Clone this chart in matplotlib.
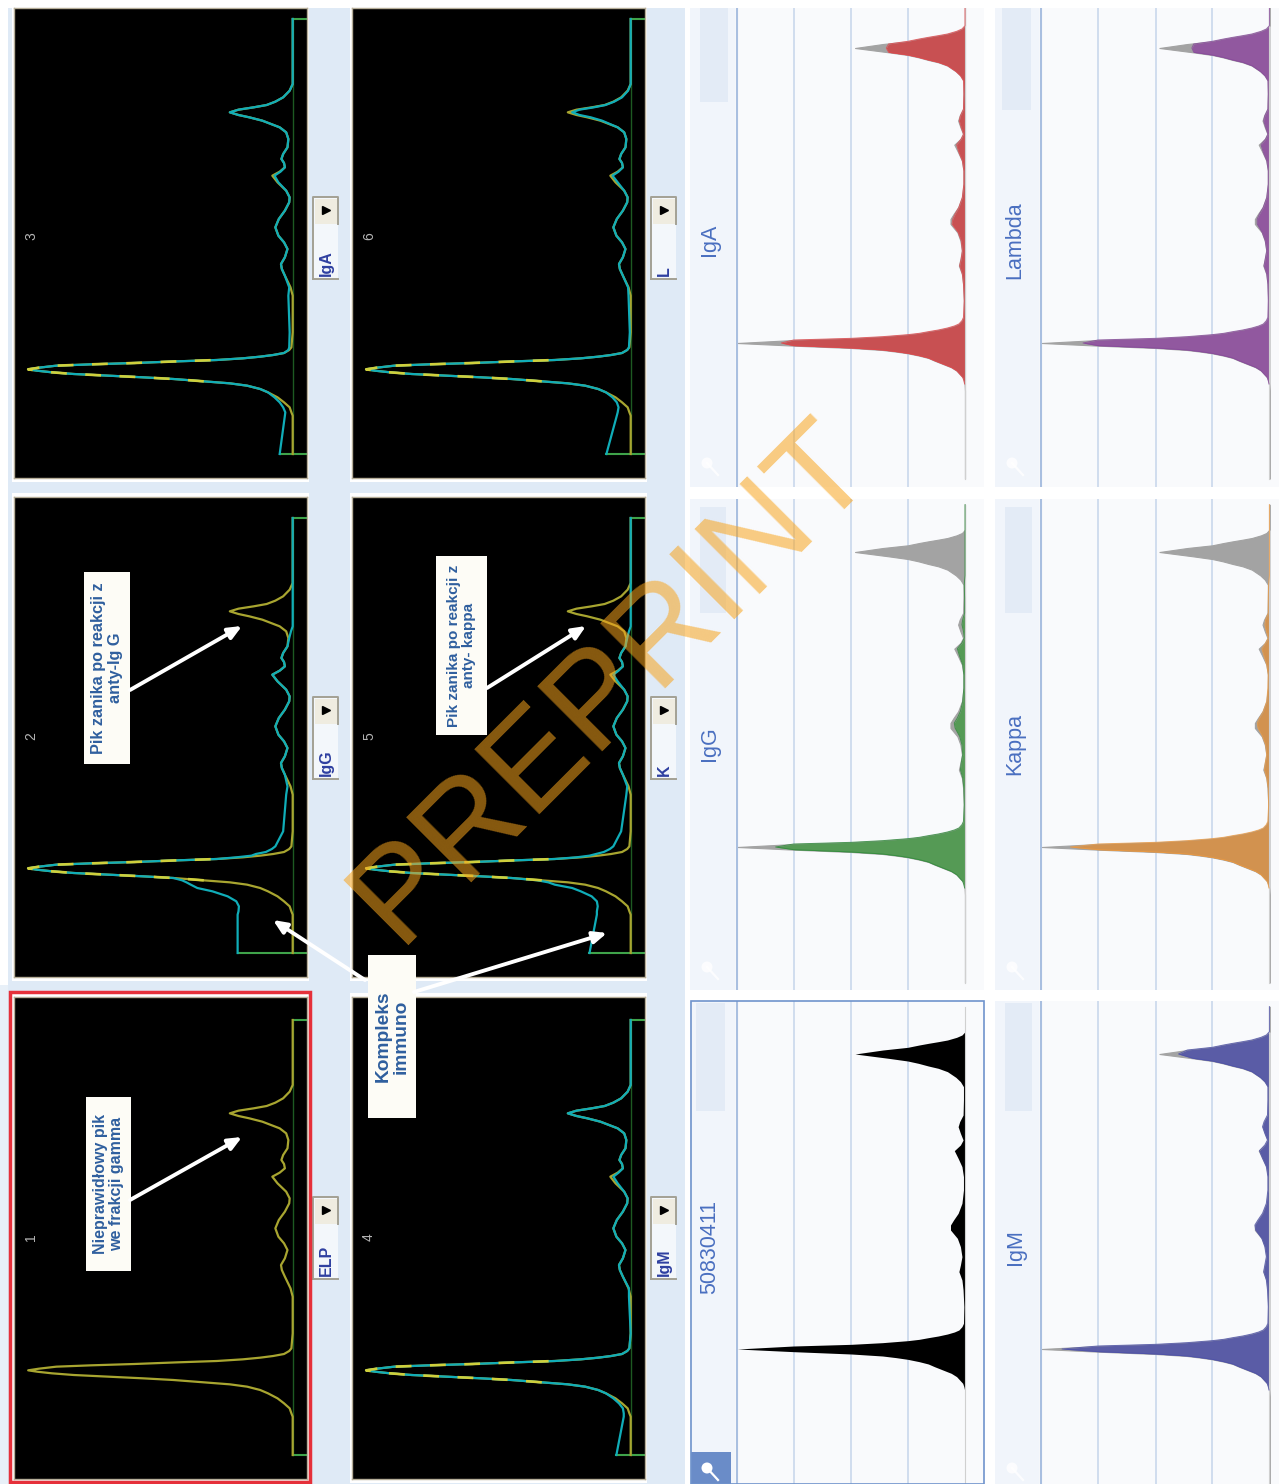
import matplotlib
matplotlib.use('Agg')
import matplotlib.pyplot as plt
from matplotlib.patches import Rectangle, Circle

W = 1279
H = 1484
plt.rcParams['font.family'] = ['Liberation Sans', 'DejaVu Sans']

# densitometry traces
trace_mig = [1425,1310,1300,1285,1270,1255,1240,1230,1220,1213,1207,1200,1195,1190,1185,1180,1175,1171,1166,1160,
             1156,1152,1147,1143,1138,1133,1128,1122,1113,1105,
             1060,950,925,890,870,855,835,810,790,770,745,720,695,670,655,635,610,590,578,565,552,540,525,505,
             480,460,445,425,415,408,400,392,385,378,368,355,335,315,120]
peak_core = [345,425,505,555,590,610,585,545,465,365,265,175]
elp = [0,0,3,7,20,35,57,75,105,145,205,275] + peak_core + [115,75,45,20,8,3] + \
      [0,0,5,18,25,27,18,12,20,33,40,32,18,8,7,15,35,47,30,18,20,26,22,12,10,15,30,70,100,125,145,125,90,60,40,22,7,0,0]
igg_trace = [127,127,125,124,130,150,185,220,235,245,255,275] + peak_core + [130,95,85,62,48,40] + \
            [22,15,12,18,25,27,18,12,20,33,40,32,18,8,7,15,35,47,30,18,20,26,22,12,8,4,0,0,0,0,0,0,0,0,0,0,0,0,0]
iga_trace = [30,18,17,22,30,42,57,75,105,145,205,275] + peak_core + [115,75,45,20,10,8] + \
            [7,10,8,18,25,27,18,12,20,33,40,32,18,8,7,15,33,42,28,18,20,26,22,12,10,15,30,70,100,125,145,125,90,60,40,22,7,0,0]
igm_trace = [33,16,16,18,27,40,57,75,105,145,205,275] + peak_core + [115,75,45,20,8,3] + \
            [0,4,4,18,25,27,18,12,20,33,40,32,18,8,7,15,30,40,28,18,20,26,22,12,10,15,30,70,100,125,145,125,90,60,40,22,7,0,0]
k_trace = [95,78,78,76,78,90,115,135,175,190,215,275] + peak_core + [125,95,80,62,48,40] + \
          [22,10,8,18,25,27,18,12,20,33,40,32,18,8,7,15,30,40,28,18,20,26,22,12,8,4,0,0,0,0,0,0,0,0,0,0,0,0,0]
l_trace = [56,32,30,28,32,42,57,75,105,145,205,275] + peak_core + [115,75,45,20,8,4] + \
          [2,5,6,18,25,27,18,12,20,33,40,32,18,8,7,15,30,42,28,18,20,26,22,12,10,15,30,66,92,118,135,118,85,58,38,20,6,0,0]
stub_mig = [120, 1425]

# filled profiles on the right
fill_mig = [1484,1330,1220,
            1200,1190,1180,1170,1160,1150,1140,1130,1122,1115,1108,1103,1098,1092,1085,1077,
            1068,1063,1058,1052,1048,1043,1038,1032,1026,1020,1010,1000,
            950,900,870,845,825,800,770,745,720,705,690,670,640,600,560,530,505,482,465,450,430,410,395,375,330,
            290,275,262,245,235,228,220,213,205,192,180,172,165,160,155,150,142,135,125,50]
main_low = [0,0,0,1,3,6,14,22,36,58,80,96,120,150,180,216,298,449]
main_up = [449,298,216,150,120,96,70,46,28,16,8,4]
ref_fill = main_low + [596] + main_up + \
           [3,5,8,16,12,8,12,20,38,38,30,18,8,4,4,8,18,28,12,5,12,18,14,5,4] + \
           [4,12,24,46,70,96,122,150,200,288,215,150,120,96,70,46,22,8,0,0]
iga_fill = main_low + [481] + main_up + \
           [2,4,7,14,10,7,10,18,34,32,26,16,7,3,3,7,16,22,10,4,10,15,12,4,3] + \
           [4,12,24,46,70,96,122,150,200,206,200,150,120,96,70,46,22,8,0,0]
igg_fill = main_low + [496] + main_up + \
           [2,3,6,12,10,6,8,14,26,28,20,12,6,3,3,6,14,20,8,2,4,8,6,1,1] + \
           [2,1,0,0,0,0,0,0,0,0,0,0,0,0,0,0,0,0,0,0]
kappa_fill = main_low + [521] + main_up + \
             [2,3,7,13,11,7,10,18,30,32,26,16,7,4,3,7,14,20,10,3,8,12,10,3,3] + \
             [2,1,0,0,0,0,0,0,0,0,0,0,0,0,0,0,0,0,0,0]
lambda_fill = main_low + [488] + main_up + \
              [3,4,7,14,11,7,11,19,32,32,26,16,7,3,3,7,16,22,10,4,10,15,12,4,3] + \
              [4,12,24,46,70,96,122,150,198,203,198,150,120,96,70,46,22,8,0,0]
igm_fill = main_low + [543] + main_up + \
           [3,5,8,15,12,8,12,20,36,38,30,18,8,4,4,8,18,26,12,5,12,18,14,5,4] + \
           [4,12,24,46,70,96,122,150,200,238,215,150,120,96,70,46,22,8,0,0]
grid_vals = [150, 298, 449]

left_names = ['ELP', 'IgG', 'IgA', 'IgM', 'K', 'L']
left_traces = [None, igg_trace, iga_trace, igm_trace, k_trace, l_trace]
right_names = ['50830411', 'IgG', 'IgA', 'IgM', 'Kappa', 'Lambda']
right_fills = [ref_fill, igg_fill, iga_fill, igm_fill, kappa_fill, lambda_fill]
right_colors = ['#000000', '#559a55', '#c85052', '#5a5ca6', '#d2924f', '#91589f']
right_edges = ['#000000', '#2f8a3a', '#e2474b', '#4c50a8', '#ee9a40', '#86489a']

fig = plt.figure(figsize=(W / 100, H / 100), dpi=100, facecolor='white')


def px_axes(x0, y0, x1, y1, zorder=1):
    # axes placed by image pixels, y counted from the top
    return fig.add_axes([x0 / W, 1 - y1 / H, (x1 - x0) / W, (y1 - y0) / H], zorder=zorder)


# background layer
bg = px_axes(0, 0, W, H, zorder=0)
bg.set_xlim(0, W)
bg.set_ylim(H, 0)
bg.axis('off')
bg.add_patch(Rectangle((8, 8), 677, H - 8, fc='#dfeaf6', ec='none'))
bg.add_patch(Rectangle((0, 985), 8, H - 985, fc='#e8f0f8', ec='none'))

col_x = [14, 352]
row_y = [(997, 1479, 0), (497, 977, 502), (8, 478, 1001)]

# left black panels
for i in range(6):
    c = i // 3
    y0, y1, d = row_y[i % 3]
    x0 = col_x[c]
    x1 = x0 + 293
    halo = max(y0 - 4, 8)
    bg.add_patch(Rectangle((x0 - 2, halo), 297, y1 - halo + 4, fc='white', ec='none'))
    ax = px_axes(x0, y0, x1, y1)
    ax.set_facecolor('black')
    for s in ax.spines.values():
        s.set_color('#b5ad98')
        s.set_linewidth(1)
    ax.set_xticks([])
    ax.set_yticks([])
    ax.set_xlim(642.7, -33)
    ax.set_ylim(3 * (y1 - 980 + d), 3 * (y0 - 980 + d))

    cyan = left_traces[i]
    ax.plot([0, 0], stub_mig, color='#1d5a22', lw=1)
    stub_end = 0 if cyan is None else cyan[0]
    ax.plot([-33, 0], [stub_mig[0], stub_mig[0]], color='#3fa34a', lw=1.5)
    ax.plot([-33, stub_end], [stub_mig[1], stub_mig[1]], color='#3fa34a', lw=1.5)
    ax.plot(elp, trace_mig, color='#a8a530', lw=1.6)
    if cyan is not None:
        ax.plot(cyan, trace_mig, color='#10adb8', lw=1.6)
        ax.plot(elp[10:24], trace_mig[10:24], color='#cfcf3c', lw=1.9, dashes=(6, 7))

    # tab next to the panel
    tx0 = x0 + 299
    ty0 = [1197, 697, 197][i % 3]
    bg.add_patch(Rectangle((tx0, ty0), 25, 82, fc='#f3f7fb', ec='none'))
    bg.add_patch(Rectangle((tx0 + 2, ty0 + 2), 22, 25, fc='#efece0', ec='none'))
    bg.plot([tx0, tx0 + 25, tx0 + 25], [ty0 + 82, ty0 + 82, ty0 + 82], color='#a3a194', lw=1.4)
    bg.plot([tx0, tx0, tx0 + 25, tx0 + 25], [ty0 + 82, ty0, ty0, ty0 + 27], color='#a3a194', lw=1.4)
    bg.plot([tx0 + 13], [ty0 + 13], marker='>', color='black', ms=6)
    bg.text(tx0 + 13, ty0 + 79, left_names[i], rotation=90, ha='center', va='bottom',
            color='#2e3fa0', fontsize=11.5, fontweight='bold')

# right filled panels
cell_x = [(690, 984, 735, 965), (995, 1279, 1039, 1269.4)]
cell_y = [(1001, 1484, 0), (499, 990, 502), (8, 487, 1006)]
strip = [[(696, 725, 1003, 1111), (700, 726, 507, 613), (700, 728, 8, 102)],
         [(1005, 1032, 1003, 1111), (1005, 1032, 507, 613), (1002, 1031, 8, 110)]]
label_y = [1247, 744, 240]
for i in range(6):
    c = i // 3
    r = i % 3
    x0, x1, xh, xb = cell_x[c]
    y0, y1, off = cell_y[r]
    bg.add_patch(Rectangle((x0, y0), x1 - x0, y1 - y0, fc='#f9fafc', ec='none'))
    bg.add_patch(Rectangle((x0, y0), xh - x0, y1 - y0, fc='#f1f5fb', ec='none'))
    sx0, sx1, sy0, sy1 = strip[c][r]
    bg.add_patch(Rectangle((sx0, sy0), sx1 - sx0, sy1 - sy0, fc='#e3ebf6', ec='none'))
    bg.text(710 if c == 0 else 1015, label_y[r], right_names[i], rotation=90, ha='center', va='center',
            color='#4a6fc0', fontsize=15.5)

    ax = px_axes(xh, y0, x1, y1)
    ax.patch.set_alpha(0)
    for s in ax.spines.values():
        s.set_visible(False)
    ax.set_xlim((xb - xh) * 597 / 228, (xb - x1) * 597 / 228)
    ax.set_ylim(3 * (y1 - 990 + off), 3 * (y0 - 990 + off))
    ax.set_xticks(grid_vals)
    ax.set_yticks([])
    ax.tick_params(length=0, labelbottom=False)
    ax.grid(axis='x', color='#c9d8ec', lw=1.2)
    ax.axvline(597, color='#a9bfe0', lw=1.5)
    ax.set_axisbelow(True)

    vals = right_fills[i]
    ax.plot([0, 0], [50, 1484], color='#d0d0d0', lw=0.8)
    if i > 0:
        ax.fill_betweenx(fill_mig, 0, ref_fill, color='#a3a3a3', lw=0.8)
    ax.fill_betweenx(fill_mig, 0, vals, color=right_colors[i], lw=0)
    if i > 0:
        ax.plot(vals[3:], fill_mig[3:], color=right_edges[i], lw=0.7, alpha=0.8)

# magnifier button of the selected sample
bg.add_patch(Rectangle((691, 1452), 40, 32, fc='#6a8cc8', ec='none'))

# overlay layer: boxes, arrows, texts, watermark
top = px_axes(0, 0, W, H, zorder=5)
top.set_xlim(0, W)
top.set_ylim(H, 0)
top.axis('off')
top.patch.set_alpha(0)

top.add_patch(Rectangle((690.5, 1001), 293.5, 483, fc='none', ec='#6f93cc', lw=1.2))
top.add_patch(Rectangle((10, 992), 299.5, 490, fc='none', ec='#e5303a', lw=2.5))

for (mx, my, alpha) in [(707, 1468, 1), (1012, 1468, 0.8), (707, 967, 0.8), (1012, 967, 0.8),
                        (707, 463, 0.8), (1012, 463, 0.8)]:
    top.add_patch(Circle((mx, my), 5.5, fc='white', ec='none', alpha=alpha))
    top.plot([mx, mx + 11], [my, my + 12], color='white', lw=1.6, alpha=alpha)

for i in range(6):
    top.text(col_x[i // 3] + 17, [1237, 736, 236][i % 3], str(i + 1), rotation=90, ha='center', va='center',
             color='#b5b5b5', fontsize=10)

box_color = '#fdfcf6'
text_color = '#2f5f9e'
boxes = [(85.5, 1097, 131, 1271, 'Nieprawid\u0142owy pik\nwe frakcji gamma', 11.5),
         (84, 572, 130, 764, 'Pik zanika po reakcji z\nanty-Ig G', 11.7),
         (436, 556, 487, 735, 'Pik zanika po reakcji z\nanty- kappa', 11),
         (368, 955, 416, 1118, 'Kompleks\nimmuno', 13.8)]
arrows = [((130, 1200), (242, 1137)), ((130, 690), (242, 626)), ((487, 688), (586, 626)),
          ((365, 980), (273, 920)), ((414, 992), (607, 933))]
for (a, b) in arrows:
    top.annotate('', xy=b, xytext=a,
                 arrowprops=dict(arrowstyle='-|>,head_length=0.8,head_width=0.35', color='white', lw=2.8,
                                 shrinkA=0, shrinkB=0))
for (x0, y0, x1, y1, txt, fs) in boxes:
    top.add_patch(Rectangle((x0, y0), x1 - x0, y1 - y0, fc=box_color, ec='none'))
    top.text((x0 + x1) / 2, (y0 + y1) / 2, txt, rotation=90, ha='center', va='center', ma='center',
             color=text_color, fontsize=fs, fontweight='bold', linespacing=1.1)

top.text(612, 682, 'PREPRINT', rotation=45, rotation_mode='anchor', ha='center', va='center',
         color='#f8a41c', alpha=0.55, fontsize=96)

fig.savefig('out.png', dpi=100)
